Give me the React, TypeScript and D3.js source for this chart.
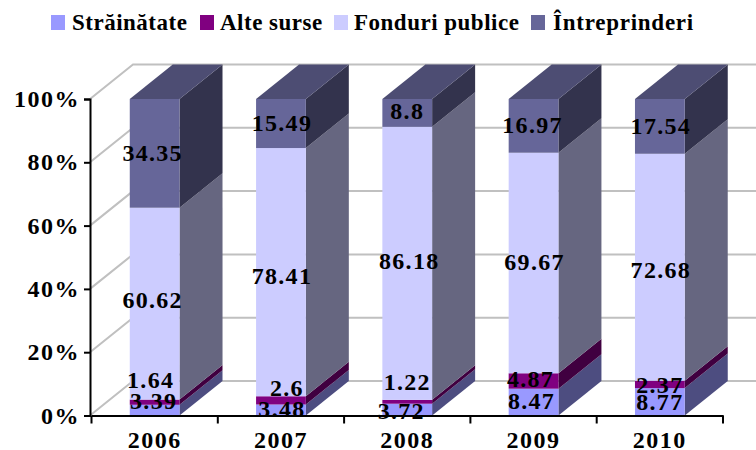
import React, { useRef, useEffect } from "react";
import * as d3 from "d3";

const years = ["2006", "2007", "2008", "2009", "2010"];
const seriesNames = ["Străinătate", "Alte surse", "Fonduri publice", "Întreprinderi"];
const strainatate = [3.39, 3.48, 3.72, 8.47, 8.77];
const alteSurse = [1.64, 2.6, 1.22, 4.87, 2.37];
const fonduriPublice = [60.62, 78.41, 86.18, 69.67, 72.68];
const intreprinderi = [34.35, 15.49, 8.8, 16.97, 17.54];
const yTicks = [0, 0.2, 0.4, 0.6, 0.8, 1];

const colors = ["#9999ff", "#800080", "#ccccff", "#666699"];

// excel nudges its labels around, these are pixel shifts from the segment centre
const labelShift: number[][][] = [
  [[-2, -10], [-5, -23], [-3, -4], [-3, -1]],
  [[0, -1], [5, -13], [0, 3], [0, -1]],
  [[-7, 1], [-1, -20], [1, -3], [-1, -2]],
  [[-3, -1], [-4, -2], [0, -1], [-2, -1]],
  [[-1, 0], [-1, 0], [0, 2], [0, -1]],
];

const legendSwatchX = [51, 200, 334, 531];
const legendTextX = [72, 220, 354, 553];

const fontFamily = "'Liberation Serif', serif";

function App() {
  const svgRef = useRef<SVGSVGElement>(null);

  useEffect(() => {
    const width = 756,
      height = 450;
    const depthX = 43,
      depthY = 34.5;
    const xStart = 91.5;

    const svg = d3.select(svgRef.current);
    svg.selectAll("*").remove();
    svg.attr("width", width).attr("height", height);

    const x = d3.scaleBand().domain(years).range([xStart, 723]).paddingInner(0.606).paddingOuter(0.303);
    const y = d3.scaleLinear().domain([0, 1]).range([415.5, 99]);

    const rows = years.map((year, i) => ({
      year,
      [seriesNames[0]]: strainatate[i],
      [seriesNames[1]]: alteSurse[i],
      [seriesNames[2]]: fonduriPublice[i],
      [seriesNames[3]]: intreprinderi[i],
    }));

    const stacked = d3.stack().keys(seriesNames).offset(d3.stackOffsetExpand)(rows as any);

    const poly = d3.line();

    // walls
    svg
      .append("g")
      .selectAll("path")
      .data(yTicks)
      .join("path")
      .attr("d", (d) =>
        poly([
          [90, y(d)],
          [90 + depthX, y(d) - depthY],
          [width, y(d) - depthY],
        ])
      )
      .attr("fill", "none")
      .attr("stroke", "#c0c0c0")
      .attr("stroke-width", 2);

    // bars
    stacked.forEach((layer, s) => {
      const base = d3.color(colors[s]) as d3.RGBColor;
      const shade = (k: number) => d3.rgb(base.r * k, base.g * k, base.b * k).formatHex();
      const g = svg.append("g");

      layer.forEach((d, i) => {
        const x0 = x(years[i]) as number;
        const x1 = x0 + x.bandwidth();
        const yTop = y(d[1]);
        const yBottom = y(d[0]);

        g.append("path")
          .attr(
            "d",
            poly([
              [x1, yBottom],
              [x1 + depthX, yBottom - depthY],
              [x1 + depthX, yTop - depthY],
              [x1, yTop],
            ]) + "Z"
          )
          .attr("fill", shade(0.5));

        if (s === seriesNames.length - 1) {
          g.append("path")
            .attr(
              "d",
              poly([
                [x0, yTop],
                [x0 + depthX, yTop - depthY],
                [x1 + depthX, yTop - depthY],
                [x1, yTop],
              ]) + "Z"
            )
            .attr("fill", shade(0.75));
        }

        g.append("rect")
          .attr("x", x0)
          .attr("y", yTop)
          .attr("width", x.bandwidth())
          .attr("height", yBottom - yTop)
          .attr("fill", colors[s]);
      });
    });

    // axes
    const yAxis = d3
      .axisLeft(y)
      .tickValues(yTicks)
      .tickFormat(d3.format(".0%") as any)
      .tickSize(6)
      .tickPadding(4);

    const xAxis = d3.axisBottom(x).tickSize(0).tickPadding(15);

    const yG = svg.append("g").attr("transform", "translate(90,0)").call(yAxis);
    const xG = svg.append("g").attr("transform", "translate(0,415.5)").call(xAxis);

    // category boundaries get the tick marks, not the centres
    const step = x.step();
    xG.selectAll(".boundary")
      .data(d3.range(years.length + 1))
      .join("line")
      .attr("class", "boundary")
      .attr("x1", (d) => xStart + d * step)
      .attr("x2", (d) => xStart + d * step)
      .attr("y1", 0)
      .attr("y2", 8)
      .attr("stroke", "#000")
      .attr("stroke-width", 2);

    [yG, xG].forEach((axis) => {
      axis.selectAll(".domain").attr("stroke", "#000").attr("stroke-width", 2);
      axis.selectAll(".tick line").attr("stroke", "#000").attr("stroke-width", 2);
      axis
        .selectAll("text")
        .attr("fill", "#000")
        .style("font-family", fontFamily)
        .style("font-weight", "bold")
        .style("font-size", "24px")
        .style("letter-spacing", "1.5px");
    });

    // data labels
    const labelValues = [strainatate, alteSurse, fonduriPublice, intreprinderi];
    const labels = svg.append("g");
    stacked.forEach((layer, s) => {
      layer.forEach((d, i) => {
        labels
          .append("text")
          .attr("x", (x(years[i]) as number) + x.bandwidth() / 2 + labelShift[i][s][0] + 1)
          .attr("y", y((d[0] + d[1]) / 2) + labelShift[i][s][1])
          .attr("dy", "0.35em")
          .attr("text-anchor", "middle")
          .style("font-family", fontFamily)
          .style("font-weight", "bold")
          .style("font-size", "24px")
          .style("letter-spacing", "1.3px")
          .text(labelValues[s][i]);
      });
    });

    // legend
    const legend = svg.append("g");
    seriesNames.forEach((name, i) => {
      legend
        .append("rect")
        .attr("x", legendSwatchX[i])
        .attr("y", 15)
        .attr("width", 14)
        .attr("height", 15)
        .attr("fill", colors[i]);
      legend
        .append("text")
        .attr("x", legendTextX[i])
        .attr("y", 30)
        .style("font-family", fontFamily)
        .style("font-weight", "bold")
        .style("font-size", "23px")
        .style("letter-spacing", i === 3 ? "0.75px" : "0.5px")
        .text(name);
    });
  }, []);

  return <svg ref={svgRef} style={{ position: "absolute", left: 0, top: 0 }}></svg>;
}

export default App;
